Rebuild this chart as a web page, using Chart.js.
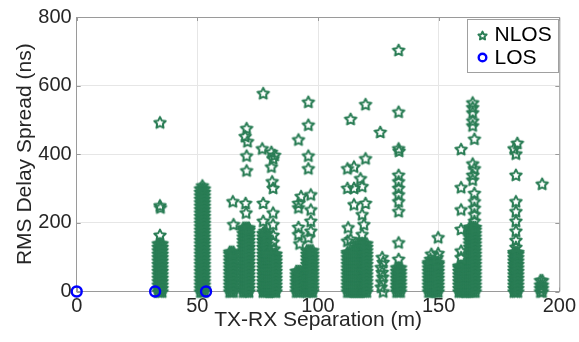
<!DOCTYPE html>
<html>
<head>
<meta charset="utf-8">
<script src="https://cdn.jsdelivr.net/npm/chart.js@4.4.0/dist/chart.umd.min.js"></script>
<style>
  html, body { margin: 0; padding: 0; background: #fff; }
  #wrap { width: 579px; height: 342px; }
</style>
</head>
<body>
<div id="wrap"><canvas id="chart" width="579" height="342"></canvas></div>
<script>
// LOS points (m, ns)
const losSep = [0, 32.5, 53.6];
const losSpread = [0, 0, 0];

// dense NLOS measurement columns: separations (m) x delay spreads (ns)
const sepA = [33.8, 34.6, 35.4];
const spreadA = [0, 10, 20, 30, 40, 50, 60, 70, 80, 90, 100, 110, 120, 130, 140];
const sepB = [51.3, 52.1, 52.9];
const spreadB = [0, 10, 20, 30, 40, 50, 60, 70, 80, 90, 100, 110, 120, 130, 140, 150, 160, 170, 180, 190, 200, 210, 220, 230, 240, 250, 260, 270, 280, 290, 300];
const sepC = [63.4, 64.2, 65.0];
const spreadC = [0, 10, 20, 30, 40, 50, 60, 70, 80, 90, 100, 110, 116];
const sepD = [69.0, 69.8, 70.6, 71.4];
const spreadD = [0, 10, 20, 30, 40, 50, 60, 70, 80, 90, 100, 110, 120, 130, 140, 150, 160, 170, 180, 186];
const sepE1 = [77.2, 78.0, 78.8];
const spreadE1 = [0, 10, 20, 30, 40, 50, 60, 70, 80, 90, 100, 110, 120, 130, 140, 150, 160, 170];
const sepE2 = [79.6, 80.4, 81.2, 82.0, 82.6];
const spreadE2 = [0, 10, 20, 30, 40, 50, 60, 70, 80, 90, 100, 110];
const sepF1 = [91.0, 91.8, 92.6];
const spreadF1 = [0, 10, 20, 30, 40, 50, 60];
const sepF2 = [95.4, 96.2, 97.0, 97.8];
const spreadF2 = [0, 10, 20, 30, 40, 50, 60, 70, 80, 90, 100, 110, 120];
const sepG1 = [112.2, 113.0, 113.8, 114.6, 115.4];
const spreadG1 = [0, 10, 20, 30, 40, 50, 60, 70, 80, 90, 100, 110, 115];
const sepG2 = [116.2, 117.0, 117.8, 118.6, 119.4, 120.2];
const spreadG2 = [0, 10, 20, 30, 40, 50, 60, 70, 80, 90, 100, 110, 120, 130, 140];
const sepI = [132.6, 133.4, 134.2];
const spreadI = [0, 10, 20, 30, 40, 50, 60, 70];
const sepJ = [145.8, 146.6, 147.4, 148.2, 149.0, 149.8];
const spreadJ = [0, 10, 20, 30, 40, 50, 60, 70, 80, 85];
const sepK1 = [158.4, 159.2, 160.0, 160.8, 161.6];
const spreadK1 = [0, 10, 20, 30, 40, 50, 60, 70, 75];
const sepK2 = [162.8, 163.6, 164.4, 165.2];
const spreadK2 = [0, 10, 20, 30, 40, 50, 60, 70, 80, 90, 100, 110, 120, 130, 140, 150, 160, 170, 180, 188];
const sepL = [181.2, 182.0, 182.8];
const spreadL = [0, 10, 20, 30, 40, 50, 60, 70, 80, 90, 100, 110, 115];
const sepM = [192.2, 193.0];
const spreadM = [0, 10, 20, 33];

// isolated NLOS stars
const outlierSep = [
  34.5, 34.5, 34.7, 34.5,
  52.1,
  64.7, 65.0,
  70.4, 69.8, 70.8, 70.4, 70.4, 70.0, 70.2,
  77.3, 76.9, 80.7, 82.0, 81.4, 80.7, 81.0, 81.4, 77.3, 81.4, 77.3, 81.4, 77.9, 81.4, 81.4, 81.8,
  96.0, 96.0, 91.9, 96.0, 96.0, 93.0, 97.0, 91.9, 97.0, 91.9, 97.0, 91.9, 97.0, 91.9, 96.0, 92.4,
  113.5, 119.7, 112.2, 114.9, 119.7, 117.6, 112.2, 114.9, 118.3, 114.9, 119.7, 118.3, 119.0, 112.5, 113.5, 118.3, 112.2,
  125.8, 126.6, 126.2, 126.8, 126.2, 127.0, 126.6, 126.4, 127.0,
  133.4, 133.4, 133.4, 133.6, 133.4, 133.4, 133.4, 133.4, 133.4, 133.4, 133.4, 133.4,
  149.8, 147.0, 149.8, 146.6, 149.4,
  164.1, 164.1, 164.1, 164.1, 164.1, 164.8, 164.1, 164.8, 164.1, 164.1, 164.8, 164.8, 164.8, 164.8, 164.8,
  159.3, 159.3, 159.3, 159.3, 159.3, 159.3,
  182.6, 181.2, 182.0, 182.0, 182.0, 182.0, 182.0, 182.0, 182.0, 182.0,
  192.9
];
const outlierSpread = [
  493, 251, 245, 165,
  309,
  263, 196,
  476, 453, 438, 396, 353, 258, 230,
  578, 417, 407, 398, 388, 364, 321, 302, 258, 230, 206, 196, 177, 165, 145, 125,
  553, 486, 443, 396, 359, 278, 283, 258, 239, 245, 206, 188, 177, 167, 158, 140,
  503, 546, 359, 364, 388, 330, 302, 302, 307, 254, 258, 225, 196, 187, 153, 167, 148,
  465, 100, 71, 43, 14, 86, 57, 29, 0,
  704, 524, 417, 410, 340, 321, 302, 283, 263, 234, 143, 95,
  158, 110, 112, 95, 100,
  551, 537, 522, 498, 484, 445, 373, 359, 340, 326, 287, 263, 244, 225, 206,
  415, 304, 239, 182, 119, 100,
  433, 417, 402, 340, 263, 234, 206, 177, 150, 130,
  314
];

const xTicks = [0, 50, 100, 150, 200];
const yTicks = [0, 200, 400, 600, 800];

const GREEN = "#2a7d55";
const BLUE = "#0000ff";
const TEXT = "#262626";
const FONT = "'Liberation Sans', Arial, sans-serif";

const columns = [
  [sepA, spreadA], [sepB, spreadB], [sepC, spreadC], [sepD, spreadD],
  [sepE1, spreadE1], [sepE2, spreadE2], [sepF1, spreadF1], [sepF2, spreadF2],
  [sepG1, spreadG1], [sepG2, spreadG2], [sepI, spreadI], [sepJ, spreadJ],
  [sepK1, spreadK1], [sepK2, spreadK2], [sepL, spreadL], [sepM, spreadM],
];
const nlosPoints = [];
columns.forEach(([xs, ys]) => xs.forEach((x) => ys.forEach((y) => nlosPoints.push({ x, y }))));
outlierSep.forEach((x, i) => nlosPoints.push({ x, y: outlierSpread[i] }));
const losPoints = losSep.map((x, i) => ({ x, y: losSpread[i] }));

function starImage(R, ratio, color, lw) {
  const size = Math.ceil(2 * R + 2 * lw + 2);
  const c = document.createElement("canvas");
  c.width = c.height = size;
  const g = c.getContext("2d");
  const cx = size / 2, cy = size / 2 + R * 0.1;
  const r = R * ratio;
  g.beginPath();
  for (let i = 0; i < 10; i++) {
    const a = -Math.PI / 2 + (i * Math.PI) / 5;
    const rad = i % 2 ? r : R;
    g.lineTo(cx + rad * Math.cos(a), cy + rad * Math.sin(a));
  }
  g.closePath();
  g.strokeStyle = color;
  g.lineWidth = lw;
  g.lineJoin = "round";
  g.stroke();
  return c;
}
const STAR = starImage(6.0, 0.5, GREEN, 2.0);
const STAR_SMALL = starImage(4.3, 0.5, GREEN, 2.0);

// top/right box lines and inward tick marks, like the original axes box
const frame = {
  id: "frame",
  beforeDatasetsDraw(chart) {
    const { ctx, chartArea: a, scales } = chart;
    ctx.save();
    ctx.strokeStyle = "#9a9a9a";
    ctx.lineWidth = 1;
    ctx.beginPath();
    ctx.moveTo(a.left, a.top + 0.5);
    ctx.lineTo(a.right + 0.5, a.top + 0.5);
    ctx.lineTo(a.right + 0.5, a.bottom);
    xTicks.forEach((t) => {
      const px = Math.round(scales.x.getPixelForValue(t)) + 0.5;
      ctx.moveTo(px, a.bottom); ctx.lineTo(px, a.bottom - 4);
      ctx.moveTo(px, a.top); ctx.lineTo(px, a.top + 4);
    });
    yTicks.forEach((t) => {
      const py = Math.round(scales.y.getPixelForValue(t)) + 0.5;
      ctx.moveTo(a.left, py); ctx.lineTo(a.left + 4, py);
      ctx.moveTo(a.right, py); ctx.lineTo(a.right - 4, py);
    });
    ctx.stroke();
    ctx.restore();
  },
};

const legendBox = {
  id: "legendBox",
  afterDraw(chart) {
    const { ctx, chartArea: a } = chart;
    const w = 91, h = 53;
    const x0 = Math.round(a.right - w - 1.5) + 0.5, y0 = Math.round(a.top + 2) + 0.5;
    ctx.save();
    ctx.fillStyle = "#fff";
    ctx.fillRect(x0, y0, w, h);
    ctx.strokeStyle = "#a0a0a0";
    ctx.lineWidth = 1;
    ctx.strokeRect(x0, y0, w, h);
    const nlos = chart.data.datasets[1];
    const los = chart.data.datasets[0];
    ctx.drawImage(STAR_SMALL, x0 + 15 - STAR_SMALL.width / 2, y0 + 16 - STAR_SMALL.height / 2);
    ctx.beginPath();
    ctx.arc(x0 + 15, y0 + 38, 3.8, 0, Math.PI * 2);
    ctx.strokeStyle = BLUE;
    ctx.lineWidth = 2.4;
    ctx.stroke();
    ctx.fillStyle = "#000";
    ctx.font = "21px " + FONT;
    ctx.textBaseline = "middle";
    ctx.textAlign = "left";
    ctx.fillText(nlos.label, x0 + 27, y0 + 16);
    ctx.fillText(los.label, x0 + 27, y0 + 38.5);
    ctx.restore();
  },
};

new Chart(document.getElementById("chart"), {
  type: "scatter",
  data: {
    datasets: [
      {
        label: "LOS",
        data: losPoints,
        order: 0,
        pointStyle: "circle",
        pointRadius: 5,
        pointBorderWidth: 2.4,
        borderColor: BLUE,
        backgroundColor: "rgba(0,0,0,0)",
        clip: false,
      },
      {
        label: "NLOS",
        data: nlosPoints,
        order: 1,
        pointStyle: STAR,
        pointRadius: 5,
        clip: false,
      },
    ],
  },
  plugins: [frame, legendBox],
  options: {
    responsive: false,
    animation: false,
    events: [],
    layout: { autoPadding: false, padding: { left: 0, right: 15.5, top: 13.3, bottom: 0 } },
    plugins: { legend: { display: false }, tooltip: { enabled: false } },
    scales: {
      x: {
        type: "linear",
        min: 0,
        max: 200,
        afterFit: (s) => { s.height = 50.5; },
        afterBuildTicks: (s) => { s.ticks = xTicks.map((v) => ({ value: v })); },
        grid: { color: "#e6e6e6", drawTicks: false },
        border: { display: true, color: "#9a9a9a" },
        ticks: { color: TEXT, font: { family: FONT, size: 20 }, padding: 3, maxRotation: 0 },
        title: {
          display: true,
          text: "TX-RX Separation (m)",
          color: TEXT,
          font: { family: FONT, size: 21 },
          padding: { top: 0, bottom: 9.5 },
        },
      },
      y: {
        type: "linear",
        min: 0,
        max: 800,
        afterFit: (s) => { s.width = 76.7; },
        afterBuildTicks: (s) => { s.ticks = yTicks.map((v) => ({ value: v })); },
        grid: { color: "#e6e6e6", drawTicks: false },
        border: { display: true, color: "#9a9a9a" },
        ticks: { color: TEXT, font: { family: FONT, size: 20 }, padding: 5 },
        title: {
          display: true,
          text: "RMS Delay Spread (ns)",
          color: TEXT,
          font: { family: FONT, size: 21 },
          padding: { top: 12.5, bottom: 0 },
        },
      },
    },
  },
});
</script>
</body>
</html>
